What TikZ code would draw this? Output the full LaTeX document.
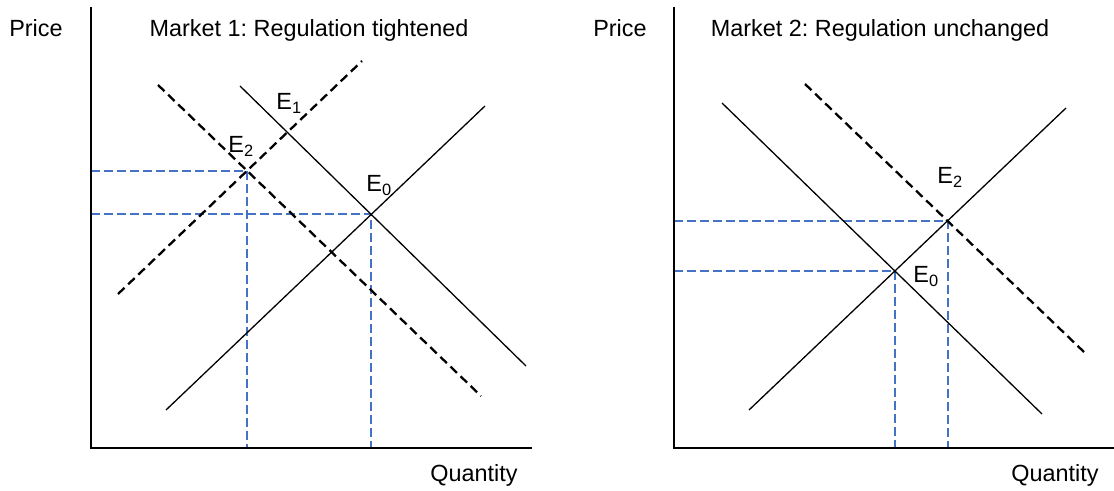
\documentclass[tikz,border=0pt]{standalone}
\usepackage{fontspec}
\setmainfont{Liberation Sans}
\usepackage{tikz}
\usepackage{xcolor}
\definecolor{guideblue}{HTML}{4472C4}
\frenchspacing

\tikzset{
  axis/.style={black, line width=1pt},
  curve/.style={black, line width=0.65pt},
  shifted/.style={black, line width=1.15pt, dash pattern=on 4.5pt off 2.5pt},
  guide/.style={guideblue, line width=1.25pt, dash pattern=on 4.5pt off 2pt},
  every node/.style={font=\fontsize{11.7}{14}\selectfont, inner sep=0pt},
}

\begin{document}
\begin{tikzpicture}[x=0.5pt, y=-0.5pt]
    % Fix the page to the size of the reference (pixel units, y pointing down)
    \useasboundingbox (0, 0) rectangle (1114, 491);

    % ---------- Market 1 ----------
    \coordinate (O1) at (91, 448);
    \coordinate (Y1) at (91, 7);
    \coordinate (X1) at (532, 448);
    \coordinate (E0a) at (371, 214);
    \coordinate (E1a) at (288, 132);
    \coordinate (E2a) at (247, 171);

    % Blue guides to the axes (drawn first, curves on top)
    \draw[guide] (E2a -| O1) -- (E2a) -- (E2a |- O1);
    \draw[guide] (E0a -| O1) -- (E0a) -- (E0a |- O1);

    % Axes
    \draw[axis] (Y1) -- (O1) -- (X1);

    % Original demand and supply
    \draw[curve] (240, 86) -- (526, 366);
    \draw[curve] (166, 410) -- (485, 106);
    % Shifted supply and demand
    \draw[shifted] (118, 294) -- (362, 61);
    \draw[shifted] (158, 85) -- (481, 396);

    \node[anchor=base] (price1) at (36, 37) {Price};
    \node[anchor=base] (title1) at (309, 37) {Market 1: Regulation tightened};
    \node[anchor=base] (qty1) at (474, 481) {Quantity};
    \node[anchor=base west] (lblE1a) at (276, 110) {E\textsubscript{1}};
    \node[anchor=base west] (lblE2a) at (228, 153) {E\textsubscript{2}};
    \node[anchor=base west] (lblE0a) at (366, 192) {E\textsubscript{0}};

    % ---------- Market 2 ----------
    \coordinate (O2) at (674, 448);
    \coordinate (Y2) at (674, 7);
    \coordinate (X2) at (1114, 448);
    \coordinate (E0b) at (895, 271);
    \coordinate (E2b) at (948, 221);

    \draw[guide] (E2b -| O2) -- (E2b) -- (E2b |- O2);
    \draw[guide] (E0b -| O2) -- (E0b) -- (E0b |- O2);

    \draw[axis] (Y2) -- (O2) -- (X2);

    \draw[curve] (722, 103) -- (1042, 414);
    \draw[curve] (749, 410) -- (1066, 108);
    % Demand moved out, supply unchanged
    \draw[shifted] (805, 84) -- (1084, 352);

    \node[anchor=base] (price2) at (620, 37) {Price};
    \node[anchor=base] (title2) at (880, 37) {Market 2: Regulation unchanged};
    \node[anchor=base] (qty2) at (1055, 481) {Quantity};
    \node[anchor=base west] (lblE2b) at (937, 184) {E\textsubscript{2}};
    \node[anchor=base west] (lblE0b) at (913, 283) {E\textsubscript{0}};
\end{tikzpicture}
\end{document}
